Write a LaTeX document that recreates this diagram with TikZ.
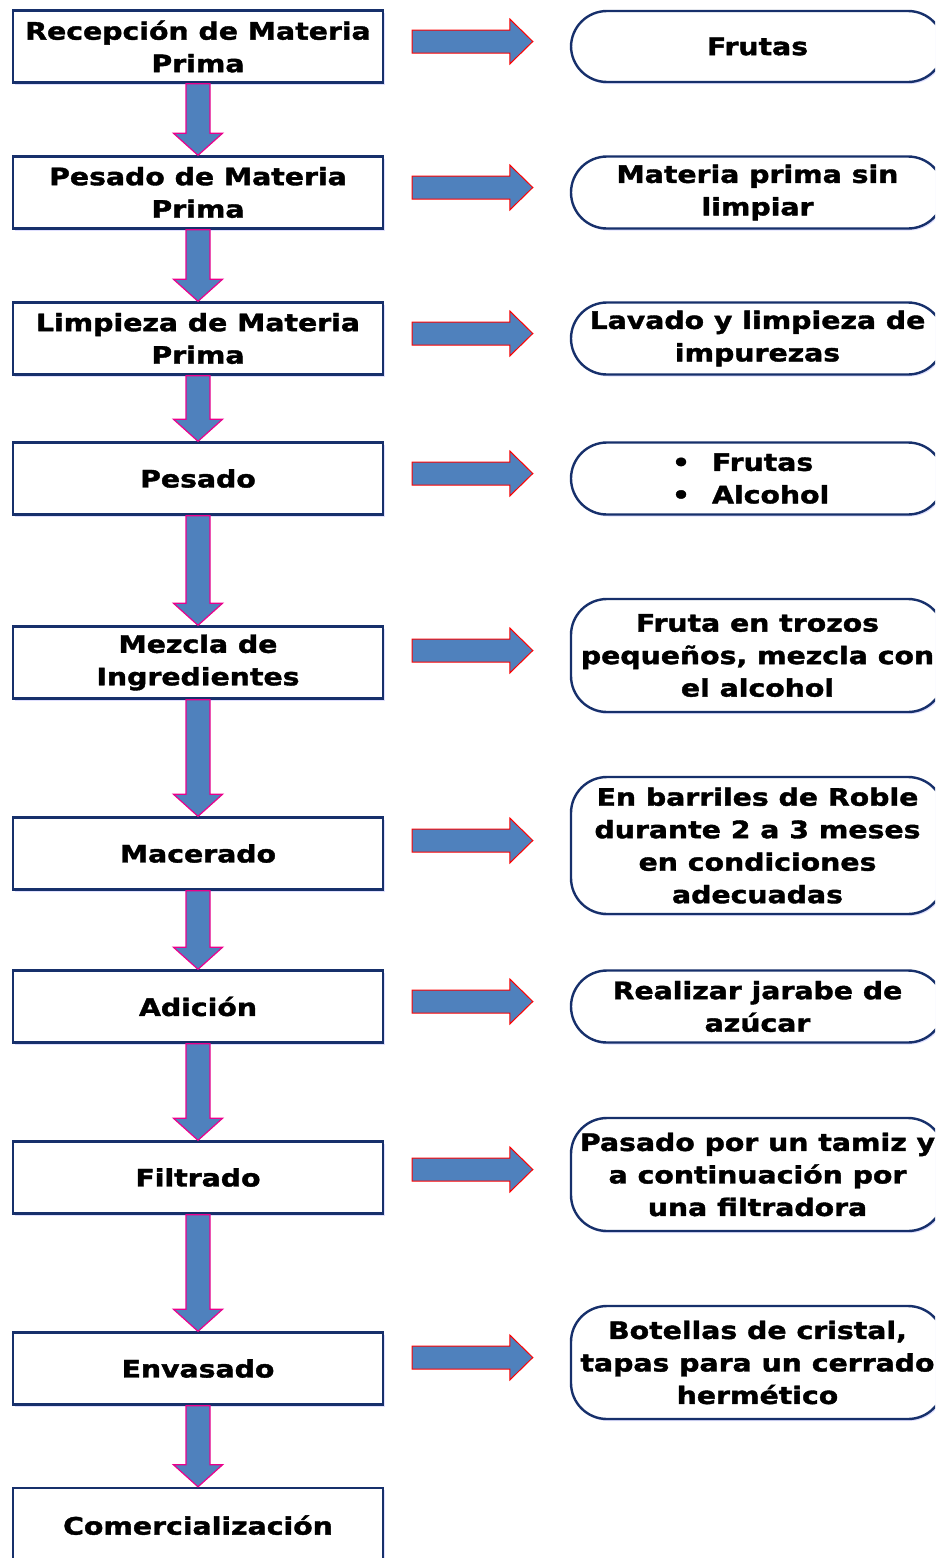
\documentclass[tikz,border=0pt]{standalone}
\usepackage{fontspec}
\setmainfont{DejaVu Sans}
\newfontfamily\negra{DejaVu Sans Bold}[FakeStretch=1.18,FakeBold=1.6]
\usepackage{tikz}
\usetikzlibrary{calc,shadows}

\definecolor{azul}{HTML}{17306B}
\definecolor{relleno}{HTML}{4F81BD}

% flecha gruesa hacia abajo entre dos pasos
\newcommand{\flechabajo}[2]{%
  \draw[flechav] ($(#1.south)+(-12,0)$) -- ($(#2.north)+(-12,22)$) -- ($(#2.north)+(-24.5,22)$)
    -- (#2.north) -- ($(#2.north)+(24.5,22)$) -- ($(#2.north)+(12,22)$) -- ($(#1.south)+(12,0)$) -- cycle;}
% flecha gruesa hacia la derecha (paso -> nota)
\newcommand{\flechader}[2]{%
  \coordinate (s) at ($(#1.east |- #2.west)+(28,5)$);
  \coordinate (t) at ($(#2.west)+(-37,5)$);
  \draw[flechah] ($(s)+(0,11.5)$) -- ($(t)+(-23,11.5)$) -- ($(t)+(-23,22.5)$) -- (t)
    -- ($(t)+(-23,-22.5)$) -- ($(t)+(-23,-11.5)$) -- ($(s)+(0,-11.5)$) -- cycle;}

\begin{document}
\begin{tikzpicture}[x=1pt,y=1pt,
    paso/.style={draw=azul,line width=2.4pt,fill=white,minimum width=370pt,minimum height=72pt,
      inner sep=0pt,align=center,font=\fontsize{24}{32.5}\selectfont\negra,
      drop shadow={shadow xshift=1.5pt,shadow yshift=-2pt,fill=blue!25!white,opacity=0.5}},
    nota/.style={paso,rounded corners=36pt,minimum width=373pt},
    flechav/.style={fill=relleno,draw=magenta,line width=1.2pt},
    flechah/.style={fill=relleno,draw=red,line width=1pt}]
  \useasboundingbox (0,0) rectangle (935,-1558);
  \clip (0,0) rectangle (935,-1558);

  % pasos del proceso
  \node[paso] (Rec) at (198,-46.5) {Recepción de Materia\\Prima};
  \node[paso] (PesMP) at (198,-192.5) {Pesado de Materia\\Prima};
  \node[paso] (Lim) at (198,-338.5) {Limpieza de Materia\\Prima};
  \node[paso] (Pes) at (198,-478.5) {Pesado};
  \node[paso] (Mez) at (198,-662.5) {Mezcla de\\Ingredientes};
  \node[paso] (Mac) at (198,-853.5) {Macerado};
  \node[paso] (Adi) at (198,-1006.5) {Adición};
  \node[paso] (Fil) at (198,-1177.5) {Filtrado};
  \node[paso] (Env) at (198,-1368.5) {Envasado};
  \node[paso,minimum height=96pt] (Com) at (198,-1536) {\raisebox{22pt}{Comercialización}};

  % notas
  \node[nota,minimum height=71pt] (nRec) at (757.5,-46.5) {Frutas};
  \node[nota] (nPesMP) at (757.5,-192.5) {Materia prima sin\\limpiar};
  \node[nota] (nLim) at (757.5,-338.5) {Lavado y limpieza de\\impurezas};
  \node[nota,align=left,text width=373pt] (nPes) at (757.5,-478.5)
    {\hspace*{101pt}•\hspace{22pt}Frutas\\\hspace*{101pt}•\hspace{22pt}Alcohol};
  \node[nota,minimum height=113pt] (nMez) at (757.5,-655.5) {Fruta en trozos\\pequeños, mezcla con\\el alcohol};
  \node[nota,minimum height=137pt] (nMac) at (757.5,-845.5) {En barriles de Roble\\durante 2 a 3 meses\\en condiciones\\adecuadas};
  \node[nota] (nAdi) at (757.5,-1006.5) {Realizar jarabe de\\azúcar};
  \node[nota,minimum height=113pt] (nFil) at (757.5,-1174.5) {Pasado por un tamiz y\\a continuación por\\una filtradora};
  \node[nota,minimum height=113pt] (nEnv) at (757.5,-1362.5) {Botellas de cristal,\\tapas para un cerrado\\hermético};

  \flechabajo{Rec}{PesMP}
  \flechabajo{PesMP}{Lim}
  \flechabajo{Lim}{Pes}
  \flechabajo{Pes}{Mez}
  \flechabajo{Mez}{Mac}
  \flechabajo{Mac}{Adi}
  \flechabajo{Adi}{Fil}
  \flechabajo{Fil}{Env}
  \flechabajo{Env}{Com}

  \flechader{Rec}{nRec}
  \flechader{PesMP}{nPesMP}
  \flechader{Lim}{nLim}
  \flechader{Pes}{nPes}
  \flechader{Mez}{nMez}
  \flechader{Mac}{nMac}
  \flechader{Adi}{nAdi}
  \flechader{Fil}{nFil}
  \flechader{Env}{nEnv}
\end{tikzpicture}
\end{document}
